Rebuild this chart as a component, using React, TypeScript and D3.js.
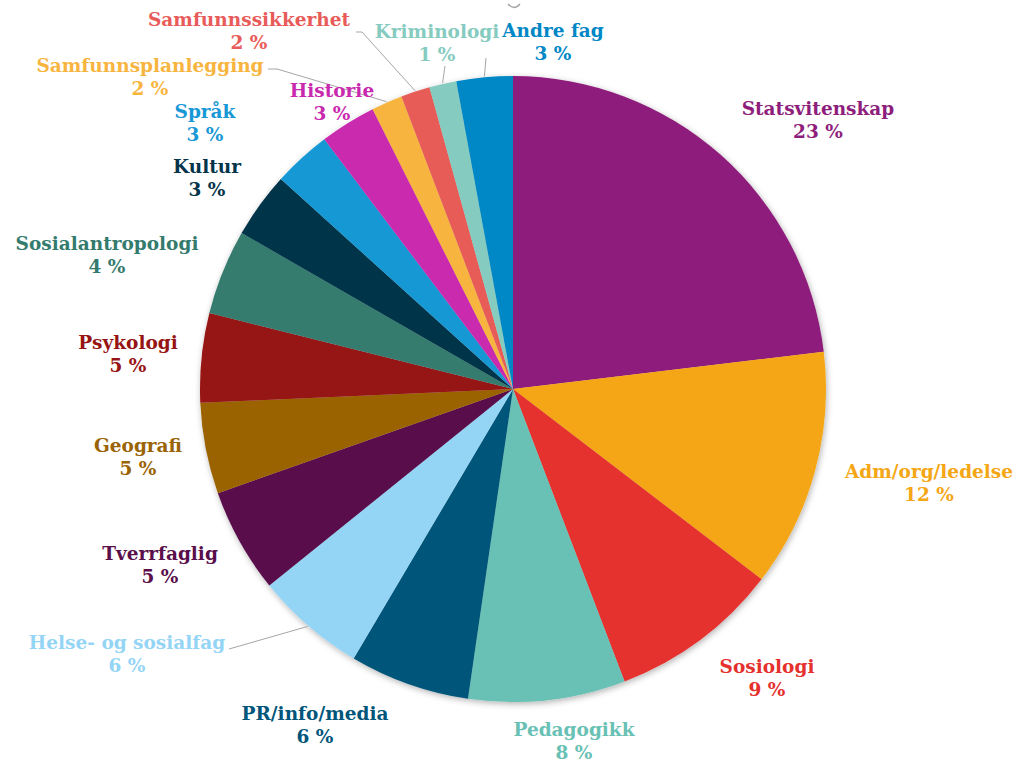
import * as d3 from 'd3'

// fag / andel (prosent)
const categories = [
  'Statsvitenskap', 'Adm/org/ledelse', 'Sosiologi', 'Pedagogikk', 'PR/info/media',
  'Helse- og sosialfag', 'Tverrfaglig', 'Geografi', 'Psykologi', 'Sosialantropologi',
  'Kultur', 'Språk', 'Historie', 'Samfunnsplanlegging', 'Samfunnssikkerhet',
  'Kriminologi', 'Andre fag',
]
const shares = [23.1, 12.3, 8.8, 8.1, 6.2, 5.7, 5.4, 4.7, 4.6, 4.4, 3.4, 3.0, 2.9, 1.6, 1.5, 1.4, 2.9]
const colors = [
  '#8E1E7B', '#F5A614', '#E5312E', '#68C1B4', '#00557A',
  '#94D4F5', '#5A0F4B', '#9A6303', '#961413', '#347B6E',
  '#04344A', '#1898D5', '#C929AE', '#F7B53F', '#E85B59',
  '#86CBC0', '#0087C5',
]

const W = 1024
const H = 763
const CX = 513
const CY = 389
const R = 313
const LINE_GAP = 23

// label name-line centre (layout)
const LABEL_POS: [number, number][] = [
  [818, 108], [929, 471], [767, 666], [574, 729], [315, 713],
  [127, 642], [160, 553], [138, 445], [128, 342], [107, 243],
  [207, 166], [205, 111], [332, 90], [150, 65], [249, 19],
  [437, 31], [553, 30],
]

// leader line start points (layout), end is on the slice edge
const LEADERS: Record<number, [number, number][]> = {
  5: [[229, 649]],
  13: [[268, 69], [277, 69]],
  14: [[356, 32], [362, 32]],
  15: [[445, 66]],
  16: [[486, 58]],
}

const FONT = '"DejaVu Serif", Georgia, serif'

export default function App() {
  const pie = d3.pie<number>().sort(null).value(d => d)
  const arcs = pie(shares)
  const arc = d3.arc<d3.PieArcDatum<number>>().innerRadius(0).outerRadius(R)

  const edgePoint = (a: d3.PieArcDatum<number>, r: number): [number, number] => {
    const m = (a.startAngle + a.endAngle) / 2
    return [CX + r * Math.sin(m), CY - r * Math.cos(m)]
  }

  return (
    <svg width={W} height={H} style={{ position: 'absolute', left: 0, top: 0, background: '#fff' }}>
      <defs>
        <filter id="shadow" x="-10%" y="-10%" width="120%" height="120%">
          <feDropShadow dx="1" dy="2" stdDeviation="3" floodColor="#000" floodOpacity="0.3" />
        </filter>
      </defs>

      <path d="M508,4 Q514,11 520,4" fill="none" stroke="#A6A6A6" strokeWidth={1.5} />

      <g transform={`translate(${CX},${CY})`} filter="url(#shadow)">
        {arcs.map((a, i) => (
          <path key={categories[i]} d={arc(a) ?? ''} fill={colors[i]} />
        ))}
      </g>

      {Object.entries(LEADERS).map(([k, pts]) => {
        const i = Number(k)
        const end = edgePoint(arcs[i], R + 1)
        const line = d3.line()([...pts, end])
        return <path key={k} d={line ?? ''} fill="none" stroke="#A6A6A6" strokeWidth={1} />
      })}

      {arcs.map((a, i) => {
        const [x, y] = LABEL_POS[i]
        return (
          <g key={categories[i]} fill={colors[i]} fontFamily={FONT} fontWeight="bold" fontSize={18.5} textAnchor="middle">
            <text x={x} y={y} dominantBaseline="central">{categories[i]}</text>
            <text x={x} y={y + LINE_GAP} dominantBaseline="central">{`${Math.round(a.data)} %`}</text>
          </g>
        )
      })}
    </svg>
  )
}
